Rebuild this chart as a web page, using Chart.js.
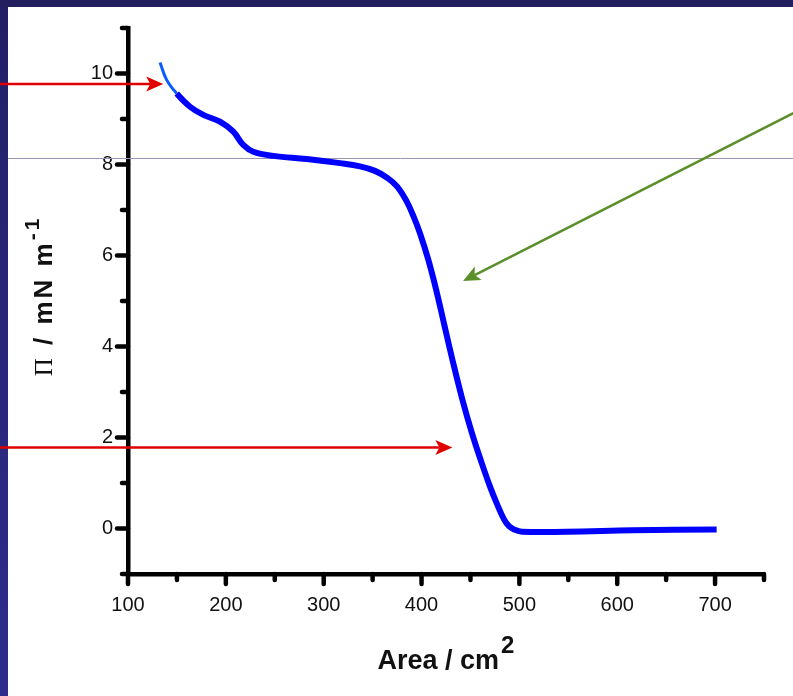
<!DOCTYPE html>
<html>
<head>
<meta charset="utf-8">
<script src="https://cdn.jsdelivr.net/npm/chart.js@4.4.0/dist/chart.umd.min.js"></script>
<style>
  html, body { margin: 0; padding: 0; background: #fff; overflow: hidden; }
</style>
</head>
<body>
<canvas id="isotherm" width="793" height="696"></canvas>
<script>
// surface pressure isotherm
const area = [132.7, 139.5, 149.8, 163.4, 177, 194, 207.6, 217.8, 228.1, 248.5,
  282.6, 316.7, 337.1, 352.4, 364.7, 374.9, 384.8, 391.6, 398.4, 406.6,
  414.8, 423.0, 431.1, 441.3, 451.6, 461.8, 470.0, 477.1, 484.3, 489.4,
  494.5, 502.7, 548.3, 616.1, 701.6];
const pressure = [10.24, 9.86, 9.56, 9.27, 9.09, 8.94, 8.72, 8.43, 8.28, 8.19,
  8.12, 8.03, 7.96, 7.86, 7.71, 7.52, 7.19, 6.87, 6.49, 5.93,
  5.26, 4.50, 3.75, 2.87, 2.09, 1.42, 0.92, 0.54, 0.20, 0.05,
  -0.02, -0.07, -0.07, -0.04, -0.02];

const xLabels = [100, 200, 300, 400, 500, 600, 700];
const yLabels = [0, 2, 4, 6, 8, 10];

// annotations (data units)
const guideLevel = 8.14;
const arrows = [
  { from: [-31, 9.77], to: [136, 9.77], color: '#e00000' },
  { from: [-31, 1.78], to: [431.5, 1.78], color: '#e00000' },
  { from: [780, 9.13], to: [442.4, 5.44], color: '#5a8f29' }
];

const frame = {
  id: 'frame',
  beforeDraw(chart) {
    const { ctx, width, height } = chart;
    ctx.save();
    ctx.fillStyle = '#fff';
    ctx.fillRect(0, 0, width, height);
    const g = ctx.createLinearGradient(0, 0, 0, height);
    g.addColorStop(0, '#221f66');
    g.addColorStop(1, '#2e2d8c');
    ctx.fillStyle = g;
    ctx.fillRect(0, 0, 8, height);
    ctx.fillStyle = '#211f5d';
    ctx.fillRect(0, 0, width, 7);
    ctx.restore();
  },
  beforeDatasetsDraw(chart) {
    const { ctx, width, scales: { y } } = chart;
    const py = Math.round(y.getPixelForValue(guideLevel)) + 0.5;
    ctx.save();
    ctx.strokeStyle = '#9896b4';
    ctx.lineWidth = 1;
    ctx.beginPath();
    ctx.moveTo(8, py);
    ctx.lineTo(width, py);
    ctx.stroke();
    ctx.restore();
  }
};

const axisTicks = {
  id: 'axisTicks',
  afterDraw(chart) {
    const { ctx, chartArea, scales: { x, y } } = chart;
    ctx.save();
    ctx.strokeStyle = '#000';
    ctx.lineWidth = 4.5;
    ctx.lineCap = 'round';
    x.ticks.forEach(t => {
      const px = x.getPixelForValue(t.value);
      const len = t.value % 100 === 0 ? 10 : 6;
      ctx.beginPath();
      ctx.moveTo(px, chartArea.bottom);
      ctx.lineTo(px, chartArea.bottom + len);
      ctx.stroke();
    });
    y.ticks.forEach(t => {
      const py = y.getPixelForValue(t.value);
      const len = t.value % 2 === 0 && t.value >= 0 && t.value <= 10 ? 11 : 6;
      ctx.beginPath();
      ctx.moveTo(chartArea.left, py);
      ctx.lineTo(chartArea.left - len, py);
      ctx.stroke();
    });
    ctx.restore();
  }
};

const titles = {
  id: 'titles',
  afterDraw(chart) {
    const { ctx, chartArea } = chart;
    ctx.save();
    ctx.fillStyle = '#111';
    ctx.textBaseline = 'alphabetic';

    // x title: Area / cm^2
    const main = 'Area / cm';
    ctx.font = 'bold 27px "Liberation Sans", Arial, sans-serif';
    const w1 = ctx.measureText(main).width;
    ctx.font = 'bold 24px "Liberation Sans", Arial, sans-serif';
    const w2 = ctx.measureText('2').width;
    const cx = (chartArea.left + chartArea.right) / 2;
    let sx = cx - (w1 + w2 + 2) / 2;
    ctx.font = 'bold 27px "Liberation Sans", Arial, sans-serif';
    ctx.fillText(main, sx, 669);
    ctx.font = 'bold 24px "Liberation Sans", Arial, sans-serif';
    ctx.fillText('2', sx + w1 + 2, 653);

    // y title: Π / mN m^-1
    const cy = (chartArea.top + chartArea.bottom) / 2 - 5;
    ctx.translate(52, cy);
    ctx.rotate(-Math.PI / 2);
    ctx.letterSpacing = '3px';
    const parts = [
      { t: '\u03A0', f: '25px "Liberation Serif", "Times New Roman", serif', dy: 0 },
      { t: ' / mN m', f: 'bold 26px "Liberation Sans", Arial, sans-serif', dy: 0 },
      { t: '-1', f: 'bold 21px "Liberation Sans", Arial, sans-serif', dy: -13 }
    ];
    let total = 0;
    parts.forEach(p => { ctx.font = p.f; p.w = ctx.measureText(p.t).width; total += p.w; });
    let px = -total / 2;
    parts.forEach(p => { ctx.font = p.f; ctx.fillText(p.t, px, p.dy); px += p.w; });
    ctx.restore();
  }
};

const arrowMarks = {
  id: 'arrowMarks',
  afterDraw(chart) {
    const { ctx, scales: { x, y } } = chart;
    ctx.save();
    arrows.forEach(a => {
      const x0 = x.getPixelForValue(a.from[0]), y0 = y.getPixelForValue(a.from[1]);
      const x1 = x.getPixelForValue(a.to[0]), y1 = y.getPixelForValue(a.to[1]);
      const ang = Math.atan2(y1 - y0, x1 - x0);
      const head = 17, half = 7.5, notch = 4;
      const cos = Math.cos(ang), sin = Math.sin(ang);
      ctx.strokeStyle = a.color;
      ctx.fillStyle = a.color;
      ctx.lineWidth = 2.5;
      ctx.beginPath();
      ctx.moveTo(x0, y0);
      ctx.lineTo(x1 - (head - notch) * cos, y1 - (head - notch) * sin);
      ctx.stroke();
      ctx.beginPath();
      ctx.moveTo(x1, y1);
      ctx.lineTo(x1 - head * cos + half * sin, y1 - head * sin - half * cos);
      ctx.lineTo(x1 - (head - notch) * cos, y1 - (head - notch) * sin);
      ctx.lineTo(x1 - head * cos - half * sin, y1 - head * sin + half * cos);
      ctx.closePath();
      ctx.fill();
    });
    ctx.restore();
  }
};

const ctx = document.getElementById('isotherm').getContext('2d');

new Chart(ctx, {
  type: 'line',
  data: {
    datasets: [{
      label: 'isotherm',
      data: area.map((a, i) => ({ x: a, y: pressure[i] })),
      borderColor: '#0000ff',
      borderWidth: 6,
      pointRadius: 0,
      tension: 0.4,
      fill: false,
      segment: {
        borderColor: c => c.p0DataIndex < 2 ? '#0a5cff' : '#0000ff',
        borderWidth: c => c.p0DataIndex < 2 ? 3 : 6
      }
    }]
  },
  options: {
    responsive: false,
    animation: false,
    devicePixelRatio: 1,
    layout: { padding: { top: 28, right: 29, left: 0, bottom: 0 } },
    plugins: {
      legend: { display: false },
      tooltip: { enabled: false }
    },
    scales: {
      x: {
        type: 'linear',
        min: 100,
        max: 750,
        afterFit: s => { s.height = 122; },
        grid: { display: true, drawOnChartArea: false, drawTicks: false },
        border: { display: true, color: '#000', width: 4.5 },
        ticks: {
          stepSize: 50,
          padding: 19,
          color: '#111',
          font: { family: '"Liberation Sans", Arial, sans-serif', size: 20 },
          maxRotation: 0,
          autoSkip: false,
          callback: v => xLabels.includes(v) ? String(v) : ''
        }
      },
      y: {
        type: 'linear',
        min: -1,
        max: 11,
        afterFit: s => { s.width = 128; },
        grid: { display: true, drawOnChartArea: false, drawTicks: false },
        border: { display: true, color: '#000', width: 4.5 },
        ticks: {
          stepSize: 1,
          padding: 15,
          color: '#111',
          font: { family: '"Liberation Sans", Arial, sans-serif', size: 20 },
          autoSkip: false,
          callback: v => yLabels.includes(v) ? String(v) : ''
        }
      }
    }
  },
  plugins: [frame, axisTicks, titles, arrowMarks]
});
</script>
</body>
</html>
